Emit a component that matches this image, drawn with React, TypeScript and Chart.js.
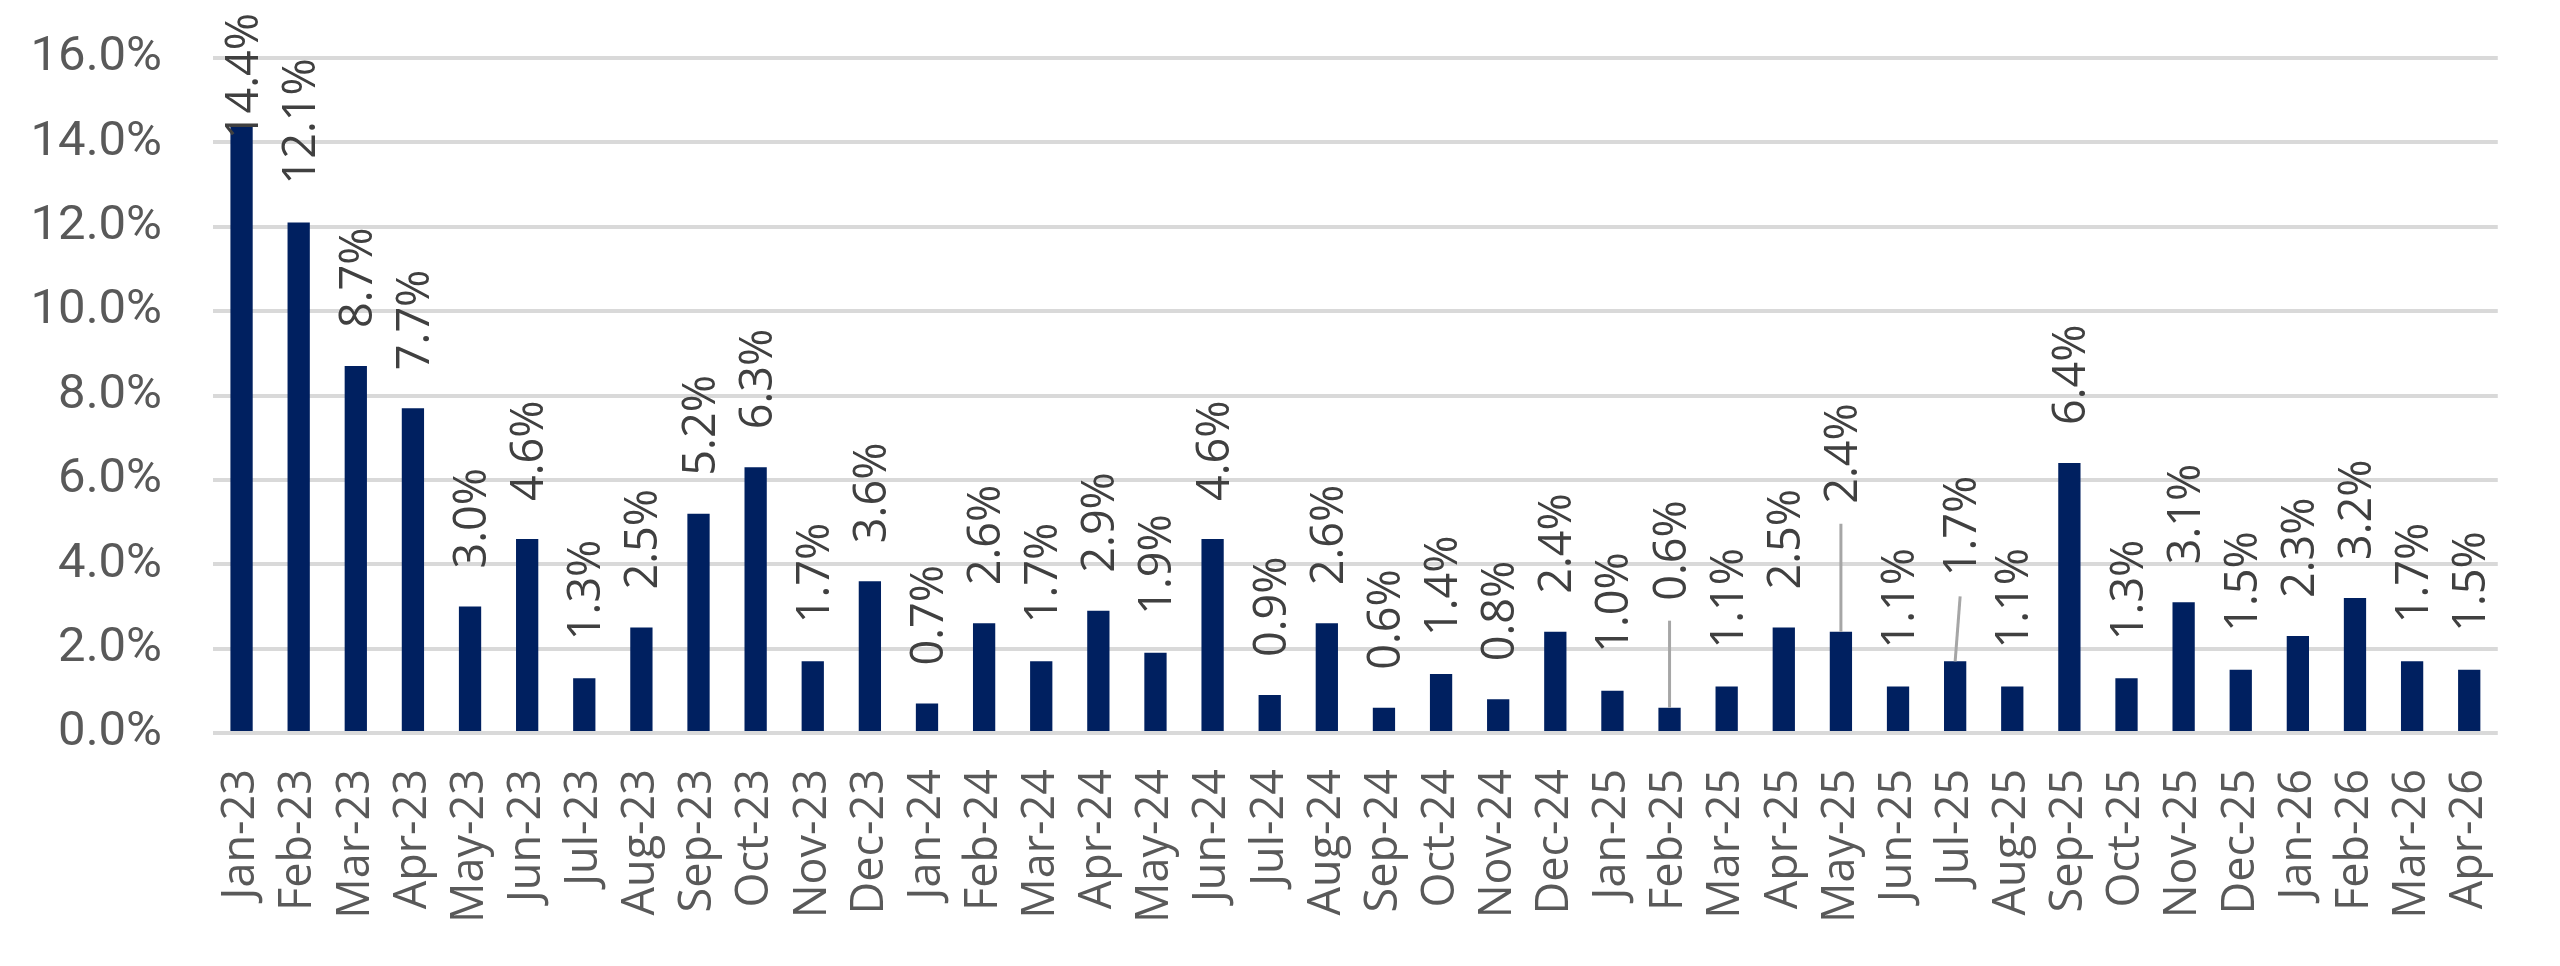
import React, { useRef, useEffect } from 'react';
import { Chart, registerables } from 'chart.js';

Chart.register(...registerables);

const months = [
  'Jan-23', 'Feb-23', 'Mar-23', 'Apr-23', 'May-23', 'Jun-23', 'Jul-23', 'Aug-23', 'Sep-23', 'Oct-23', 'Nov-23', 'Dec-23',
  'Jan-24', 'Feb-24', 'Mar-24', 'Apr-24', 'May-24', 'Jun-24', 'Jul-24', 'Aug-24', 'Sep-24', 'Oct-24', 'Nov-24', 'Dec-24',
  'Jan-25', 'Feb-25', 'Mar-25', 'Apr-25', 'May-25', 'Jun-25', 'Jul-25', 'Aug-25', 'Sep-25', 'Oct-25', 'Nov-25', 'Dec-25',
  'Jan-26', 'Feb-26', 'Mar-26', 'Apr-26',
];

const growth = [
  14.4, 12.1, 8.7, 7.7, 3.0, 4.6, 1.3, 2.5, 5.2, 6.3, 1.7, 3.6,
  0.7, 2.6, 1.7, 2.9, 1.9, 4.6, 0.9, 2.6, 0.6, 1.4, 0.8, 2.4,
  1.0, 0.6, 1.1, 2.5, 2.4, 1.1, 1.7, 1.1, 6.4, 1.3, 3.1, 1.5,
  2.3, 3.2, 1.7, 1.5,
];

const yMin = 0;
const yMax = 16;
const yStep = 2;

// labels Excel pushed up and tied back to the bar with a leader line: [dx, lift]
const labelShift: Record<number, [number, number]> = { 25: [0, 69], 28: [0, 90], 30: [5, 47] };

const barLabels = {
  id: 'barLabels',
  afterDatasetsDraw(chart: any) {
    const { ctx } = chart;
    const meta = chart.getDatasetMeta(0);
    ctx.save();
    ctx.font = '45px "Open Sans"';
    ctx.fillStyle = '#404040';
    ctx.textAlign = 'left';
    ctx.textBaseline = 'alphabetic';
    meta.data.forEach((bar: any, i: number) => {
      const text = growth[i].toFixed(1) + '%';
      const w = ctx.measureText(text).width;
      const [dx, lift] = labelShift[i] || [0, 0];
      let start = bar.y - 38 - lift;
      if (start - w < 13) start = 13 + w;
      const x = bar.x + dx;
      if (lift) {
        ctx.strokeStyle = '#a6a6a6';
        ctx.lineWidth = 3;
        ctx.beginPath();
        ctx.moveTo(bar.x, bar.y);
        ctx.lineTo(x, start + 20);
        ctx.stroke();
      }
      ctx.save();
      ctx.translate(x, start);
      ctx.rotate(-Math.PI / 2);
      ctx.fillText(text, 0, 16);
      ctx.restore();
    });
    ctx.restore();
  },
};

const App: React.FC = () => {
  const chartRef = useRef<HTMLCanvasElement | null>(null);

  useEffect(() => {
    document.body.style.margin = '0';
    if (!chartRef.current) return;

    const chart = new Chart(chartRef.current, {
      type: 'bar',
      data: {
        labels: months,
        datasets: [
          {
            data: growth,
            backgroundColor: '#002060',
            borderWidth: 0,
            barPercentage: 0.39,
            categoryPercentage: 1,
          },
        ],
      },
      options: {
        animation: false,
        responsive: true,
        maintainAspectRatio: false,
        layout: { padding: { top: 58, right: 62, left: 0, bottom: 0 } },
        plugins: {
          legend: { display: false },
          tooltip: { enabled: false },
        },
        scales: {
          x: {
            grid: { display: false, drawTicks: false },
            border: { display: false },
            ticks: {
              minRotation: 90,
              maxRotation: 90,
              padding: 36,
              color: '#595959',
              font: { family: '"Open Sans"', size: 45 },
            },
            afterFit: (scale: any) => {
              scale.height = 233;
            },
          },
          y: {
            min: yMin,
            max: yMax,
            grid: { color: '#d9d9d9', lineWidth: 4, drawTicks: false, tickLength: 0 },
            border: { display: false },
            ticks: {
              stepSize: yStep,
              padding: 51,
              color: '#595959',
              font: { family: 'Roboto', size: 49 },
              callback: (v: any) => Number(v).toFixed(1) + '%',
            },
            afterFit: (scale: any) => {
              scale.width = 213;
              scale.paddingTop = 0;
              scale.paddingBottom = 0;
            },
          },
        },
      },
      plugins: [barLabels],
    });

    return () => {
      chart.destroy();
    };
  }, []);

  return (
    <div style={{ width: 2560, height: 966, background: '#fff' }}>
      <canvas ref={chartRef}></canvas>
    </div>
  );
};

export default App;
